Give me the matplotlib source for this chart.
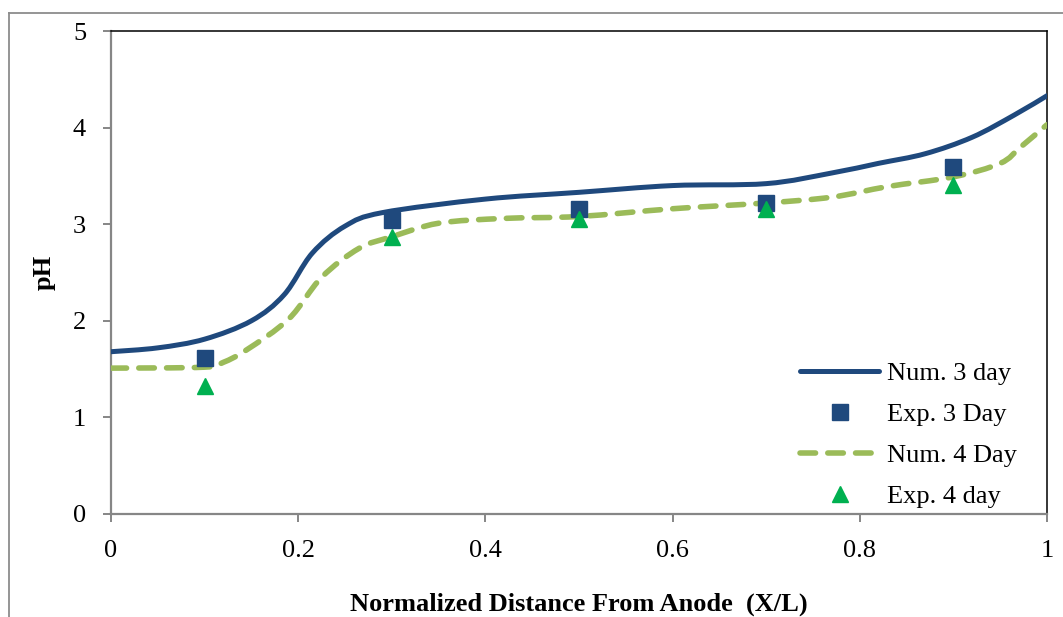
import matplotlib
matplotlib.use('Agg')
import matplotlib.pyplot as plt
from matplotlib.path import Path
from matplotlib.patches import PathPatch
from matplotlib.lines import Line2D

# valeurs
x_num3 = [0.0, 0.05, 0.1, 0.15, 0.185, 0.215, 0.25, 0.29, 0.4, 0.5, 0.6, 0.7, 0.77, 0.82, 0.87, 0.92, 0.965, 1.0]
ph_num3 = [1.68, 1.72, 1.81, 2.0, 2.27, 2.7, 2.98, 3.12, 3.26, 3.33, 3.40, 3.42, 3.53, 3.63, 3.73, 3.90, 4.13, 4.33]

x_num4 = [0.0, 0.1, 0.12, 0.145, 0.19, 0.225, 0.265, 0.3, 0.35, 0.42, 0.5, 0.6, 0.7, 0.77, 0.83, 0.9, 0.95, 0.972, 1.0]
ph_num4 = [1.51, 1.52, 1.57, 1.70, 2.02, 2.45, 2.75, 2.87, 3.01, 3.06, 3.08, 3.16, 3.22, 3.28, 3.39, 3.49, 3.63, 3.80, 4.03]

x_exp = [0.1, 0.3, 0.5, 0.7, 0.9]
ph_exp3 = [1.62, 3.04, 3.16, 3.22, 3.59]
ph_exp4 = [1.32, 2.87, 3.05, 3.16, 3.41]

labels = ['Num. 3 day', 'Exp. 3 Day', 'Num. 4 Day', 'Exp. 4 day']

blue = '#1F497D'
lgreen = '#9BBB59'
green = '#00B050'
grey = '#868686'


def smooth_path(xs, ys):
    # courbe lissée type Excel (Catmull-Rom -> Bezier)
    pts = list(zip(xs, ys))
    verts = [pts[0]]
    codes = [Path.MOVETO]
    n = len(pts)
    for i in range(n - 1):
        p0 = pts[i - 1] if i > 0 else pts[i]
        p1 = pts[i]
        p2 = pts[i + 1]
        p3 = pts[i + 2] if i + 2 < n else pts[i + 1]
        c1 = (p1[0] + (p2[0] - p0[0]) / 6, p1[1] + (p2[1] - p0[1]) / 6)
        c2 = (p2[0] - (p3[0] - p1[0]) / 6, p2[1] - (p3[1] - p1[1]) / 6)
        verts += [c1, c2, p2]
        codes += [Path.CURVE4] * 3
    return Path(verts, codes)


plt.rcParams['font.family'] = ['Liberation Serif', 'DejaVu Serif']

fig = plt.figure(figsize=(10.63, 6.17), dpi=100)
ax = fig.add_axes([111 / 1063, 1 - 514 / 617, 936 / 1063, 483 / 617])

# cadre extérieur
fig.add_artist(Line2D([9 / 1063, 1], [1 - 13 / 617, 1 - 13 / 617], color='#8c8c8c', lw=1.3))
fig.add_artist(Line2D([9 / 1063, 9 / 1063], [0, 1 - 13 / 617], color='#8c8c8c', lw=1.3))

dash = (0, (2.8, 2.2))
p3 = PathPatch(smooth_path(x_num3, ph_num3), facecolor='none', edgecolor=blue,
               lw=3.6, capstyle='round', joinstyle='round', zorder=3)
ax.add_patch(p3)
p4 = PathPatch(smooth_path(x_num4, ph_num4), facecolor='none', edgecolor=lgreen,
               lw=4.0, linestyle=dash, capstyle='round', joinstyle='round', zorder=3)
ax.add_patch(p4)

ax.plot(x_exp, ph_exp3, linestyle='none', marker='s', ms=11, color=blue, zorder=4)
ax.plot(x_exp, ph_exp4, linestyle='none', marker='^', ms=11, color=green, zorder=4)

ax.set_xlim(0, 1)
ax.set_ylim(0, 5)
ax.set_xticks([0, 0.2, 0.4, 0.6, 0.8, 1])
ax.set_xticklabels(['0', '0.2', '0.4', '0.6', '0.8', '1'])
ax.set_yticks([0, 1, 2, 3, 4, 5])

for s in ['left', 'bottom']:
    ax.spines[s].set_color(grey)
    ax.spines[s].set_linewidth(1.6)
for s in ['top', 'right']:
    ax.spines[s].set_color('black')
    ax.spines[s].set_linewidth(1.1)
ax.tick_params(direction='out', length=6, width=1.4, color=grey, labelsize=19, pad=13)
ax.tick_params(axis='y', pad=12)

ax.set_xlabel('Normalized Distance From Anode  (X/L)', fontsize=19, fontweight='bold', labelpad=22)
ax.set_ylabel('pH', fontsize=19, fontweight='bold', labelpad=12)

handles = [
    Line2D([], [], color=blue, lw=3.6, solid_capstyle='round'),
    Line2D([], [], linestyle='none', marker='s', ms=11, color=blue),
    Line2D([], [], color=lgreen, lw=4.0, linestyle=dash, dash_capstyle='round'),
    Line2D([], [], linestyle='none', marker='^', ms=11, color=green),
]
ax.legend(handles, labels, loc='upper left', bbox_to_anchor=(800 / 1063, 1 - 362 / 617),
          bbox_transform=fig.transFigure, frameon=False, fontsize=19, borderpad=0,
          borderaxespad=0, handlelength=3.0, handletextpad=0.3, labelspacing=0.66)

fig.savefig('out.png', dpi=100)
